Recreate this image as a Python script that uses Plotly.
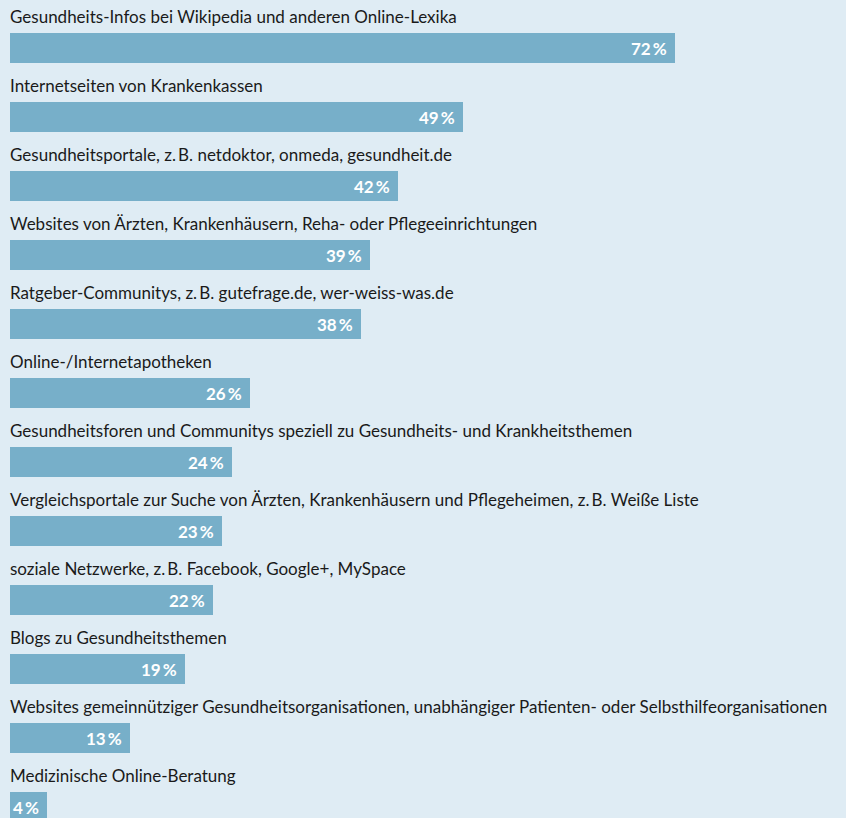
import plotly.graph_objects as go

categories = [
    "Gesundheits-Infos bei Wikipedia und anderen Online-Lexika",
    "Internetseiten von Krankenkassen",
    "Gesundheitsportale, z.\u2009B. netdoktor, onmeda, gesundheit.de",
    "Websites von Ärzten, Krankenhäusern, Reha- oder Pflegeeinrichtungen",
    "Ratgeber-Communitys, z.\u2009B. gutefrage.de, wer-weiss-was.de",
    "Online-/Internetapotheken",
    "Gesundheitsforen und Communitys speziell zu Gesundheits- und Krankheitsthemen",
    "Vergleichsportale zur Suche von Ärzten, Krankenhäusern und Pflegeheimen, z.\u2009B. Weiße Liste",
    "soziale Netzwerke, z.\u2009B. Facebook, Google+, MySpace",
    "Blogs zu Gesundheitsthemen",
    "Websites gemeinnütziger Gesundheitsorganisationen, unabhängiger Patienten- oder Selbsthilfeorganisationen",
    "Medizinische Online-Beratung",
]
values = [72, 49, 42, 39, 38, 26, 24, 23, 22, 19, 13, 4]

BG = "#dfecf4"
BAR = "#77afc9"
FONT = "Lato"

idx = list(range(len(categories)))

fig = go.Figure()
fig.add_trace(go.Bar(
    x=values, y=idx, orientation="h",
    marker=dict(color=BAR, line=dict(width=0)),
    width=30 / 69,
    hoverinfo="skip",
))

annotations = []
for i, (c, v) in enumerate(zip(categories, values)):
    annotations.append(dict(
        x=0, y=i - 0.457, xref="x", yref="y", text=c, showarrow=False,
        xanchor="left", yanchor="middle", xshift=-2,
        font=dict(family=FONT, size=17, color="#1a1a1a"),
    ))
    annotations.append(dict(
        x=v, y=i, xref="x", yref="y", text=f"{v}\u2009%", showarrow=False,
        xanchor="right", yanchor="middle", xshift=-6,
        font=dict(family=FONT, size=17, color="white", weight="bold"),
    ))

fig.update_layout(
    width=846, height=818,
    margin=dict(l=10, r=0, t=0, b=0),
    paper_bgcolor=BG, plot_bgcolor=BG,
    showlegend=False,
    xaxis=dict(range=[0, 836 / (665 / 72)], visible=False, fixedrange=True),
    yaxis=dict(range=[(818 - 48) / 69, -48 / 69], visible=False, fixedrange=True),
    annotations=annotations,
    bargap=0,
)

fig.write_html(
    "out.html",
    config={"displayModeBar": False},
    post_script="document.body.style.margin='0';document.body.style.overflow='hidden';document.body.style.background='" + BG + "';",
)
